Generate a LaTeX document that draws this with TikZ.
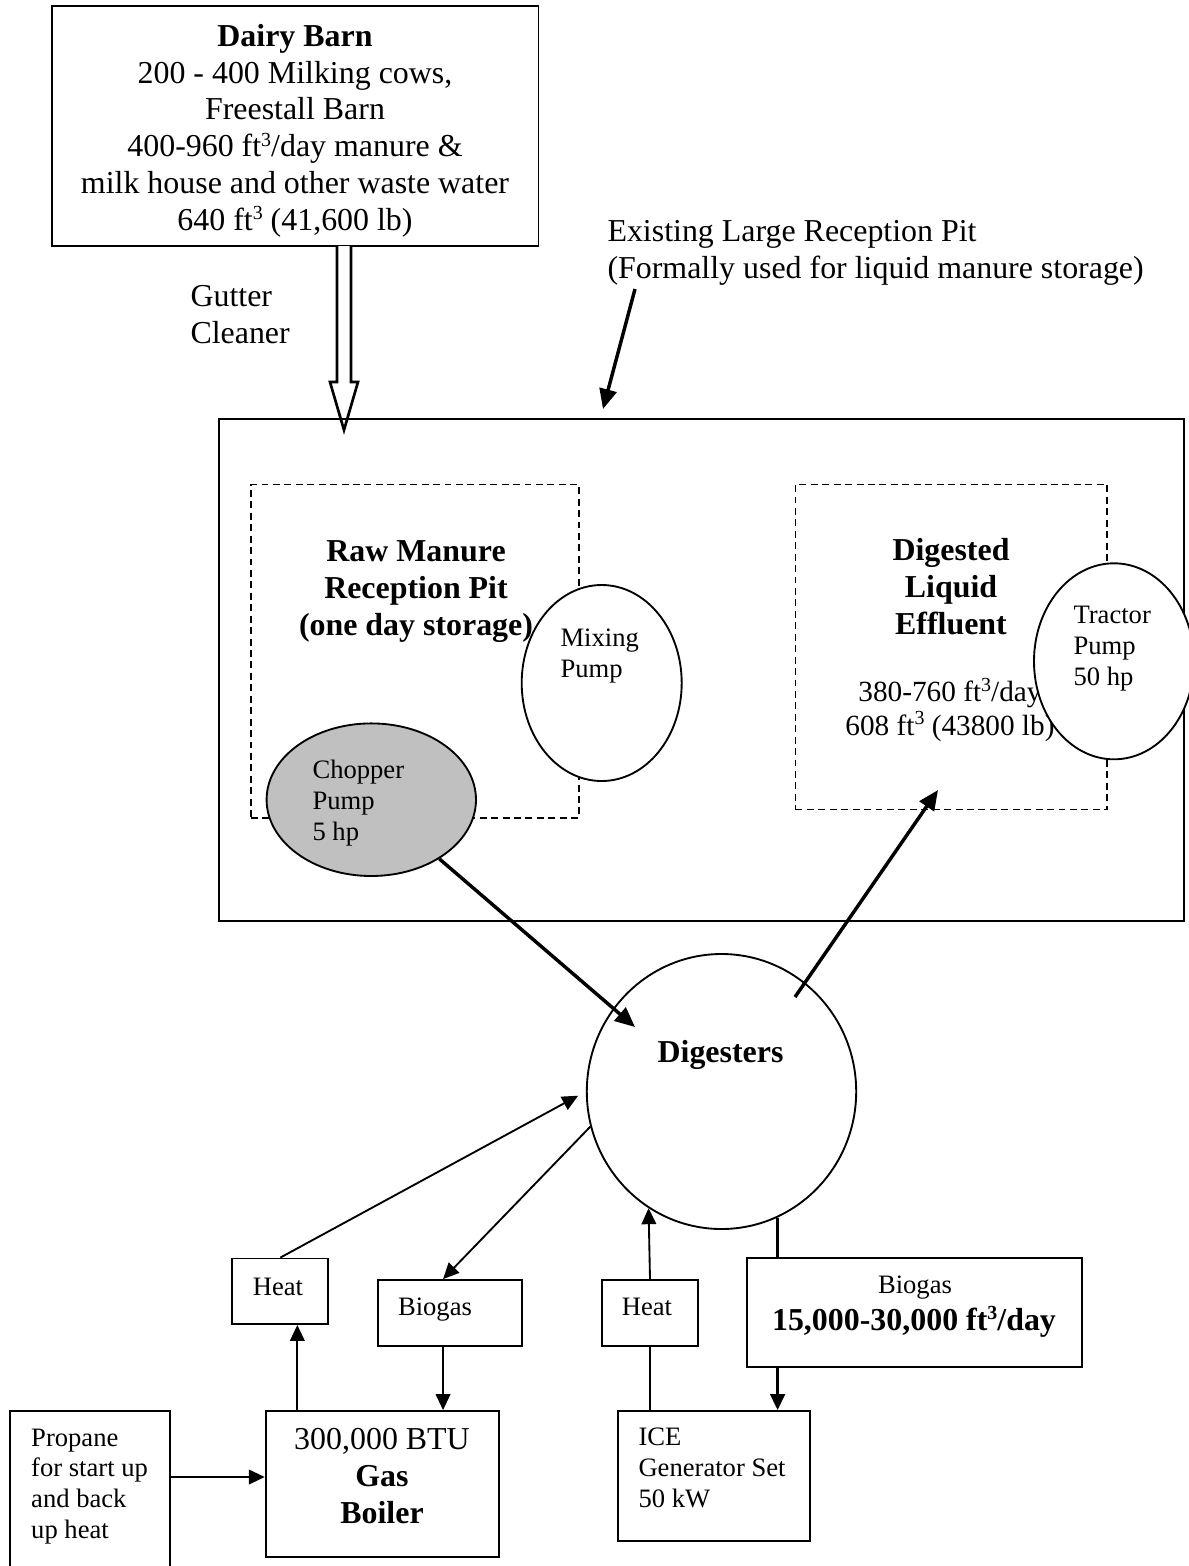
\documentclass[tikz,border=0pt]{standalone}
\usepackage{fontspec}
\setmainfont{Liberation Serif}
\usetikzlibrary{arrows.meta,shapes.geometric,fit,calc}
\definecolor{choppergray}{RGB}{192,192,192}
\newcommand{\px}{0.376pt}
\newcommand{\cubed}{\raisebox{3.8pt}{\fontsize{7.5}{8}\selectfont 3}}

\begin{document}
\begin{tikzpicture}[x=\px, y=-\px,
    plainbox/.style={draw, line width=0.7pt, inner sep=0pt},
    dashbox/.style={draw, line width=0.7pt, inner sep=0pt, dash pattern=on 2.6pt off 1.7pt},
    pump/.style={draw, ellipse, line width=0.7pt, fill=white, inner sep=0pt,
                 minimum width=160*\px, minimum height=196*\px},
    txtbig/.style={font=\fontsize{12}{13.8}\selectfont, inner sep=0pt},
    txtmid/.style={font=\fontsize{11}{12.6}\selectfont, inner sep=0pt},
    txtsmall/.style={font=\fontsize{10}{11.5}\selectfont, inner sep=0pt},
    flowarrow/.style={-{Triangle[length=6pt,width=5.5pt]}, line width=0.7pt},
    bigarrow/.style={-{Triangle[length=7.5pt,width=6.5pt]}, line width=1.3pt}]

    % Page
    \fill[white] (0,0) rectangle (1189,1566);
    \useasboundingbox (0,0) rectangle (1189,1566);

    % Dairy barn
    \node[plainbox, fit={(52,6) (538.5,246)}] (barn) {};
    \node[txtbig, align=center, anchor=base] (barntext) at (295,230)
      {\textbf{Dairy Barn}\\200 - 400 Milking cows,\\Freestall Barn\\
       400-960 ft\cubed/day manure \&\\milk house and other waste water\\
       640 ft\cubed{} (41,600 lb)};

    % Gutter cleaner (hollow arrow)
    \coordinate (gutter) at (344,246);
    \draw[line width=1pt, fill=white] ($(gutter)+(-7,0)$) -- ++(0,136) -- ++(-7,0)
      -- ++(14,48) -- ++(14,-48) -- ++(-7,0) -- ++(0,-136);
    \node[txtbig, align=left, anchor=base west] (guttertext) at (190,343) {Gutter\\Cleaner};

    % Existing reception pit
    \node[plainbox, fit={(219,419) (1184,921)}] (pit) {};
    \node[txtbig, align=left, anchor=base west] (pittext) at (607,278)
      {Existing Large Reception Pit\\(Formally used for liquid manure storage)};
    \coordinate (pittail) at (635,289);
    \coordinate (pittip) at (603,409);
    \draw[bigarrow] (pittail) -- (pittip);

    % Raw manure side
    \node[dashbox, fit={(251,484.5) (579,818)}] (raw) {};
    \node[txtbig, font=\fontsize{12}{13.8}\selectfont\bfseries, align=center, anchor=base] (rawtext) at (416,635)
      {Raw Manure\\Reception Pit\\(one day storage)};
    \node[pump] (mixing) at (601.7,683) {};
    \node[txtsmall, align=left, anchor=base west] (mixingtext) at (560,677) {Mixing\\Pump};
    \node[pump, fill=choppergray, minimum width=209.4*\px, minimum height=152.6*\px] (chopper) at (371.3,799.7) {};
    \node[txtsmall, align=left, anchor=base west] (choppertext) at (312,840) {Chopper\\Pump\\5 hp};

    % Digested side
    \node[dashbox, fit={(795.5,484.5) (1107.3,809.5)}] (eff) {};
    \node[txtbig, font=\fontsize{12}{13.8}\selectfont\bfseries, align=center, anchor=base] (efftext) at (951,634)
      {Digested\\Liquid\\Effluent};
    \node[txtmid, align=center, anchor=base] (effflow) at (950,735)
      {380-760 ft\cubed/day\\608 ft\cubed{} (43800 lb)};
    \node[pump] (tractor) at (1114,661.3) {};
    \node[txtsmall, align=left, anchor=base west] (tractortext) at (1073,685) {Tractor\\Pump\\50 hp};

    % Digesters
    \node[draw, ellipse, line width=0.7pt, inner sep=0pt, minimum width=269.4*\px, minimum height=275*\px] (dig) at (721.5,1091.5) {};
    \node[txtbig, font=\fontsize{12}{13.8}\selectfont\bfseries, anchor=base] (digtext) at (720.5,1062) {Digesters};
    \coordinate (choptip) at (635,1027);
    \coordinate (efftail) at (795,997);
    \coordinate (efftip) at (938,790);
    \draw[bigarrow] (chopper.319.5) -- (choptip);
    \draw[bigarrow] (efftail) -- (efftip);

    % Boiler loop
    \node[plainbox, fit={(232.3,1258.5) (328.4,1324)}] (heatL) {};
    \node[txtsmall, anchor=base] (heatLtext) at (278,1295) {Heat};
    \node[plainbox, fit={(377.7,1280) (522.4,1345.7)}] (bioL) {};
    \node[txtsmall, anchor=base] (bioLtext) at (435,1315) {Biogas};
    \node[plainbox, fit={(265.7,1411) (498.7,1556.7)}] (boiler) {};
    \node[txtbig, align=center, anchor=base] (boilertext) at (382,1523)
      {300,000 BTU\\\textbf{Gas}\\\textbf{Boiler}};
    \node[plainbox, fit={(10,1411) (170,1590)}] (propane) {};
    \node[txtsmall, align=left, anchor=base west] (propanetext) at (30.7,1538)
      {Propane\\for start up\\and back\\up heat};
    \coordinate (bioLout) at ($(bioL.south)+(-7,0)$);
    \coordinate (heatLin) at ($(heatL.south)+(17,0)$);
    \draw[flowarrow, shorten >=3.3pt] (heatL.north) -- (dig.west);
    \draw[flowarrow] (dig.195) -- ($(bioL.north)+(-7,0)$);
    \draw[flowarrow] (bioLout) -- (bioLout |- boiler.north);
    \draw[flowarrow] (heatLin |- boiler.north) -- (heatLin);
    \draw[flowarrow] (propane.east |- 0,1477) -- (boiler.west |- 0,1477);

    % Generator loop
    \node[plainbox, fit={(601.7,1280) (698.3,1346)}] (heatR) {};
    \node[txtsmall, anchor=base] (heatRtext) at (647,1315) {Heat};
    \node[plainbox, fit={(747.3,1258) (1082,1367)}] (bioR) {};
    \node[txtsmall, anchor=base] (bioRtext) at (915,1293) {Biogas};
    \node[txtbig, font=\fontsize{12}{13.8}\selectfont\bfseries, anchor=base] (bioRflow) at (914,1330)
      {15,000-30,000 ft\cubed/day};
    \node[plainbox, fit={(617.7,1411) (810,1541)}] (ice) {};
    \node[txtsmall, align=left, anchor=base west] (icetext) at (638,1507)
      {ICE\\Generator Set\\50 kW};
    \coordinate (gasline) at (dig.294.3);
    \draw[line width=0.7pt] (heatR.south |- ice.north) -- (heatR.south);
    \draw[flowarrow] (heatR.north) -- (dig.238.5);
    \draw[line width=1.1pt] (gasline) -- (gasline |- bioR.north);
    \draw[flowarrow, line width=1.1pt] (gasline |- bioR.south) -- (gasline |- ice.north);
\end{tikzpicture}
\end{document}
